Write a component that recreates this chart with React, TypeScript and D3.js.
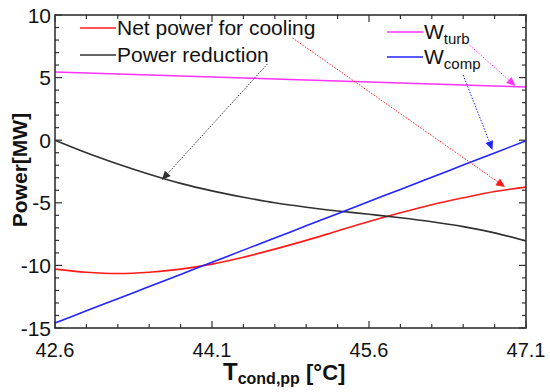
import { useEffect, useRef } from 'react'
import * as d3 from 'd3'

// x values (condensing pinch point temperature, °C)
const temps = [42.6, 42.9, 43.2, 43.5, 43.8, 44.1, 44.4, 44.7, 45.0, 45.3, 45.6, 45.9, 46.2, 46.5, 46.8, 47.1]
const netPower = [-10.3, -10.55, -10.65, -10.55, -10.3, -9.9, -9.35, -8.7, -8.0, -7.25, -6.5, -5.8, -5.15, -4.6, -4.1, -3.75]
const powerReduction = [0, -1.0, -1.9, -2.72, -3.45, -4.05, -4.55, -5.0, -5.35, -5.65, -5.92, -6.2, -6.52, -6.9, -7.4, -8.05]
const wTurb = [5.45, 5.37, 5.29, 5.21, 5.13, 5.05, 4.97, 4.89, 4.81, 4.73, 4.65, 4.57, 4.49, 4.41, 4.33, 4.25]
const wComp = [-14.6, -13.63, -12.66, -11.69, -10.72, -9.75, -8.78, -7.81, -6.84, -5.87, -4.9, -3.93, -2.96, -1.99, -1.02, -0.05]

const xTicks = [42.6, 44.1, 45.6, 47.1]
const yTicks = [-15, -10, -5, 0, 5, 10]

const series = [
  { key: 'net', values: netPower, color: '#ff1a1a' },
  { key: 'red', values: powerReduction, color: '#303030' },
  { key: 'turb', values: wTurb, color: '#ff33ff' },
  { key: 'comp', values: wComp, color: '#2222ff' },
]

// dotted pointer arrows from legend text to the curves, in data units
const arrows = [
  { from: [44.87, 8.16], to: [46.9, -3.74], color: '#ff1a1a' },
  { from: [44.63, 6.09], to: [43.62, -3.18], color: '#303030' },
  { from: [46.56, 7.6], to: [47.0, 4.33], color: '#ff33ff' },
  { from: [46.5, 5.2], to: [46.78, -0.78], color: '#2222ff' },
]

export default function App() {
  const svgRef = useRef<SVGSVGElement>(null)
  const width = 550
  const height = 392

  useEffect(() => {
    if (!svgRef.current) return
    const svg = d3.select(svgRef.current)
    svg.selectAll('*').remove()

    const left = 55, right = 526, top = 15, bottom = 328
    const x = d3.scaleLinear().domain([42.6, 47.1]).range([left, right])
    const y = d3.scaleLinear().domain([-15, 10]).range([bottom, top])
    const font = 'Liberation Sans, Arial, sans-serif'
    const axisColor = '#333'

    svg.append('rect')
      .attr('width', width).attr('height', height).attr('fill', 'white')

    // minor + major ticks, inward on all four sides
    const minorX = d3.range(0, 16).map(i => 42.6 + i * 0.3)
    const minorY = d3.range(-15, 11)
    const ticks = svg.append('g').attr('stroke', axisColor).attr('stroke-width', 1.2)
    minorX.forEach((v, i) => {
      const len = i % 5 === 0 ? 7 : 4
      ticks.append('line').attr('x1', x(v)).attr('x2', x(v)).attr('y1', bottom).attr('y2', bottom - len)
      ticks.append('line').attr('x1', x(v)).attr('x2', x(v)).attr('y1', top).attr('y2', top + len)
    })
    minorY.forEach(v => {
      const len = v % 5 === 0 ? 7 : 4
      ticks.append('line').attr('x1', left).attr('x2', left + len).attr('y1', y(v)).attr('y2', y(v))
      ticks.append('line').attr('x1', right).attr('x2', right - len).attr('y1', y(v)).attr('y2', y(v))
    })

    // curves
    const line = d3.line<number>()
      .x((_, i) => x(temps[i]))
      .y(d => y(d))
      .curve(d3.curveMonotoneX)
    series.forEach(s => {
      svg.append('path')
        .attr('d', line(s.values))
        .attr('fill', 'none')
        .attr('stroke', s.color)
        .attr('stroke-width', 1.6)
    })

    // frame
    svg.append('rect')
      .attr('x', left).attr('y', top)
      .attr('width', right - left).attr('height', bottom - top)
      .attr('fill', 'none').attr('stroke', axisColor).attr('stroke-width', 1.6)

    // tick labels
    svg.append('g').selectAll('text').data(yTicks).join('text')
      .attr('x', left - 4).attr('y', d => y(d)).attr('dy', '0.36em')
      .attr('text-anchor', 'end')
      .style('font', `21px ${font}`).attr('fill', '#111')
      .text(d => d)
    svg.append('g').selectAll('text').data(xTicks).join('text')
      .attr('x', d => x(d)).attr('y', bottom + 29)
      .attr('text-anchor', 'middle')
      .style('font', `20px ${font}`).attr('fill', '#111')
      .text(d => d.toFixed(1))

    // axis titles
    const xt = svg.append('text')
      .attr('x', 223).attr('y', 380)
      .style('font', `bold 24px ${font}`).attr('fill', '#111')
    xt.append('tspan').text('T')
    xt.append('tspan').attr('dy', 4).style('font-size', '16px').text('cond,pp')
    xt.append('tspan').attr('dy', -4).style('font-size', '22px').text(' [°C]')

    svg.append('text')
      .attr('transform', `translate(27,170) rotate(-90)`)
      .attr('text-anchor', 'middle')
      .style('font', `bold 21px ${font}`).attr('fill', '#111')
      .text('Power[MW]')

    // legend
    const legend = [
      { label: 'Net power for cooling', sub: '', color: '#ff1a1a', lx: 80, ly: 28 },
      { label: 'Power reduction', sub: '', color: '#303030', lx: 80, ly: 55 },
      { label: 'W', sub: 'turb', color: '#ff33ff', lx: 387, ly: 32 },
      { label: 'W', sub: 'comp', color: '#2222ff', lx: 387, ly: 57 },
    ]
    legend.forEach(l => {
      svg.append('line')
        .attr('x1', l.lx).attr('x2', l.lx + 36).attr('y1', l.ly).attr('y2', l.ly)
        .attr('stroke', l.color).attr('stroke-width', 1.6)
      const t = svg.append('text')
        .attr('x', l.lx + 37).attr('y', l.ly + 7)
        .style('font', `21px ${font}`).attr('fill', '#111')
      t.append('tspan').text(l.label)
      if (l.sub) t.append('tspan').attr('dy', 5).style('font-size', '15px').text(l.sub)
    })

    // arrows
    arrows.forEach(a => {
      const x0 = x(a.from[0]), y0 = y(a.from[1])
      const x1 = x(a.to[0]), y1 = y(a.to[1])
      const ang = Math.atan2(y1 - y0, x1 - x0)
      const hl = 9, hw = 4
      const bx = x1 - hl * Math.cos(ang), by = y1 - hl * Math.sin(ang)
      svg.append('line')
        .attr('x1', x0).attr('y1', y0).attr('x2', bx).attr('y2', by)
        .attr('stroke', a.color).attr('stroke-width', 1)
        .attr('stroke-dasharray', '1.5,1.5')
      const px = -Math.sin(ang) * hw, py = Math.cos(ang) * hw
      svg.append('path')
        .attr('d', `M${x1},${y1}L${bx + px},${by + py}L${bx - px},${by - py}Z`)
        .attr('fill', a.color)
    })

    return () => {
      svg.selectAll('*').remove()
    }
  }, [])

  return (
    <svg
      ref={svgRef}
      width={width}
      height={height}
      style={{ position: 'absolute', left: 0, top: 0 }}
    />
  )
}
